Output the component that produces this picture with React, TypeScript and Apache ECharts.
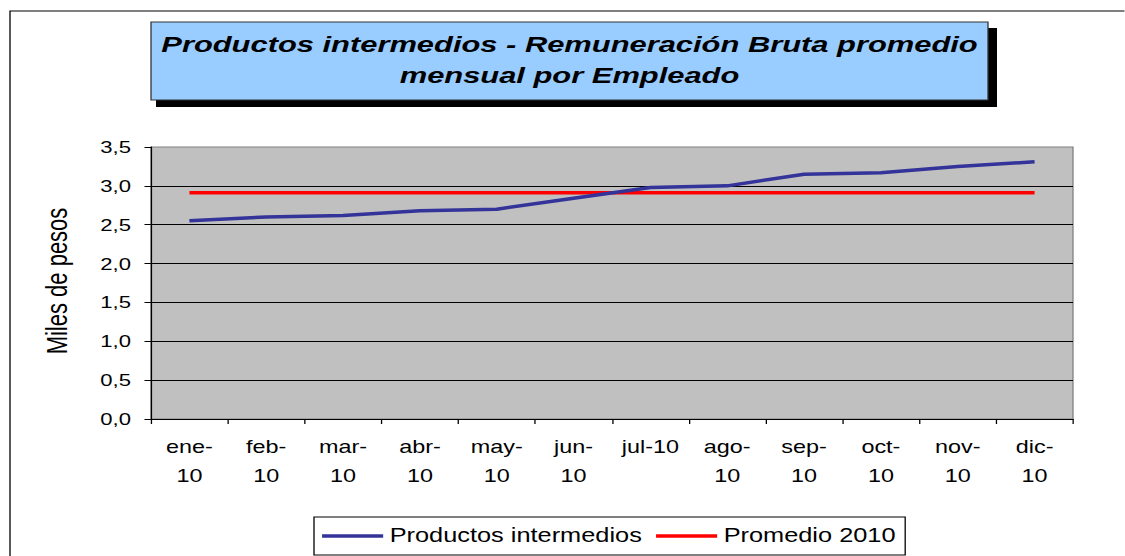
import React, { useEffect, useRef } from "react";
import * as echarts from "echarts";

const categories = ["ene-\n10", "feb-\n10", "mar-\n10", "abr-\n10", "may-\n10", "jun-\n10", "jul-10", "ago-\n10", "sep-\n10", "oct-\n10", "nov-\n10", "dic-\n10"];
const productosIntermedios = [2.55, 2.6, 2.62, 2.68, 2.7, 2.84, 2.98, 3.0, 3.15, 3.17, 3.25, 3.31];
const promedio2010 = [2.91, 2.91, 2.91, 2.91, 2.91, 2.91, 2.91, 2.91, 2.91, 2.91, 2.91, 2.91];
const seriesNames = ["Productos intermedios", "Promedio 2010"];
const titleText = "Productos intermedios - Remuneración Bruta promedio\nmensual por Empleado";
const yAxisName = "Miles de pesos";

const S = 1.3; // horizontal stretch of the whole picture
const W = 1125 / S;
const H = 556;
const FONT = "'Liberation Sans', Arial, sans-serif";

export default function App() {
  const ref = useRef<HTMLDivElement>(null);
  useEffect(() => {
    if (!ref.current) return;
    const chart = echarts.init(ref.current, undefined, { renderer: "svg" });
    chart.setOption({
      animation: false,
      backgroundColor: "#ffffff",
      textStyle: { fontFamily: FONT },
      grid: {
        left: 151 / S,
        top: 147,
        width: (1073 - 151) / S,
        height: 272,
        show: true,
        backgroundColor: "#C0C0C0",
        borderColor: "#808080",
        borderWidth: 1,
        containLabel: false,
      },
      legend: {
        left: 314 / S,
        top: 517,
        orient: "horizontal",
        icon: "rect",
        itemWidth: 47,
        itemHeight: 3.5,
        itemGap: 10.9,
        padding: [8, 7.4, 8, 6.2],
        borderColor: "#000",
        borderWidth: 1,
        backgroundColor: "#fff",
        textStyle: { fontSize: 19.5, color: "#000", fontFamily: FONT, lineHeight: 22 },
        data: seriesNames,
      },
      xAxis: {
        type: "category",
        data: categories,
        boundaryGap: true,
        axisLine: { show: true, lineStyle: { color: "#000", width: 1 } },
        axisTick: { show: true, length: 5, interval: 0, alignWithLabel: false, lineStyle: { color: "#000" } },
        axisLabel: { interval: 0, fontSize: 18, lineHeight: 29, margin: 13.5, color: "#000", fontFamily: FONT },
        splitLine: { show: false },
      },
      yAxis: {
        type: "value",
        min: 0,
        max: 3.5,
        interval: 0.5,
        axisLine: { show: true, lineStyle: { color: "#000", width: 1 } },
        axisTick: { show: true, length: 5, lineStyle: { color: "#000" } },
        axisLabel: {
          fontSize: 17,
          margin: 15.4,
          color: "#000",
          fontFamily: FONT,
          formatter: (v: number) => v.toFixed(1).replace(".", ","),
        },
        splitLine: { show: true, showMinLine: false, showMaxLine: false, lineStyle: { color: "#000", width: 1 } },
      },
      series: [
        {
          name: seriesNames[0],
          type: "line",
          data: productosIntermedios,
          symbol: "none",
          lineStyle: { color: "#333399", width: 3.5 },
          itemStyle: { color: "#333399" },
          z: 3,
        },
        {
          name: seriesNames[1],
          type: "line",
          data: promedio2010,
          symbol: "none",
          lineStyle: { color: "#FF0000", width: 3.5 },
          itemStyle: { color: "#FF0000" },
          z: 2,
        },
      ],
      graphic: [
        {
          type: "rect",
          shape: { x: 10 / S, y: 11, width: 1000, height: 1000 },
          style: { fill: "none", stroke: "#000", lineWidth: 1 },
          z: -10,
          silent: true,
        },
        {
          type: "rect",
          shape: { x: 156 / S, y: 28, width: (997 - 156) / S, height: 79 },
          style: { fill: "#000" },
          z: 10,
        },
        {
          type: "rect",
          shape: { x: 151 / S, y: 22, width: (988 - 151) / S, height: 78 },
          style: { fill: "#99CCFF", stroke: "#333", lineWidth: 1 },
          z: 11,
        },
        {
          type: "text",
          x: 569.5 / S,
          y: 60,
          scaleX: 1.08,
          z: 12,
          style: {
            text: titleText,
            font: `italic bold 22px ${FONT}`,
            lineHeight: 31,
            fill: "#000",
            align: "center",
            verticalAlign: "middle",
            textAlign: "center",
            textVerticalAlign: "middle",
          },
        },
        {
          type: "text",
          x: 57 / S,
          y: 281,
          rotation: Math.PI / 2,
          z: 12,
          style: {
            text: yAxisName,
            font: `22px ${FONT}`,
            fill: "#000",
            align: "center",
            verticalAlign: "middle",
            textAlign: "center",
            textVerticalAlign: "middle",
          },
        },
      ],
    });
    return () => chart.dispose();
  }, []);
  return (
    <div
      ref={ref}
      style={{
        position: "absolute",
        left: 0,
        top: 0,
        width: W,
        height: H,
        transform: `scaleX(${S})`,
        transformOrigin: "0 0",
      }}
    />
  );
}
